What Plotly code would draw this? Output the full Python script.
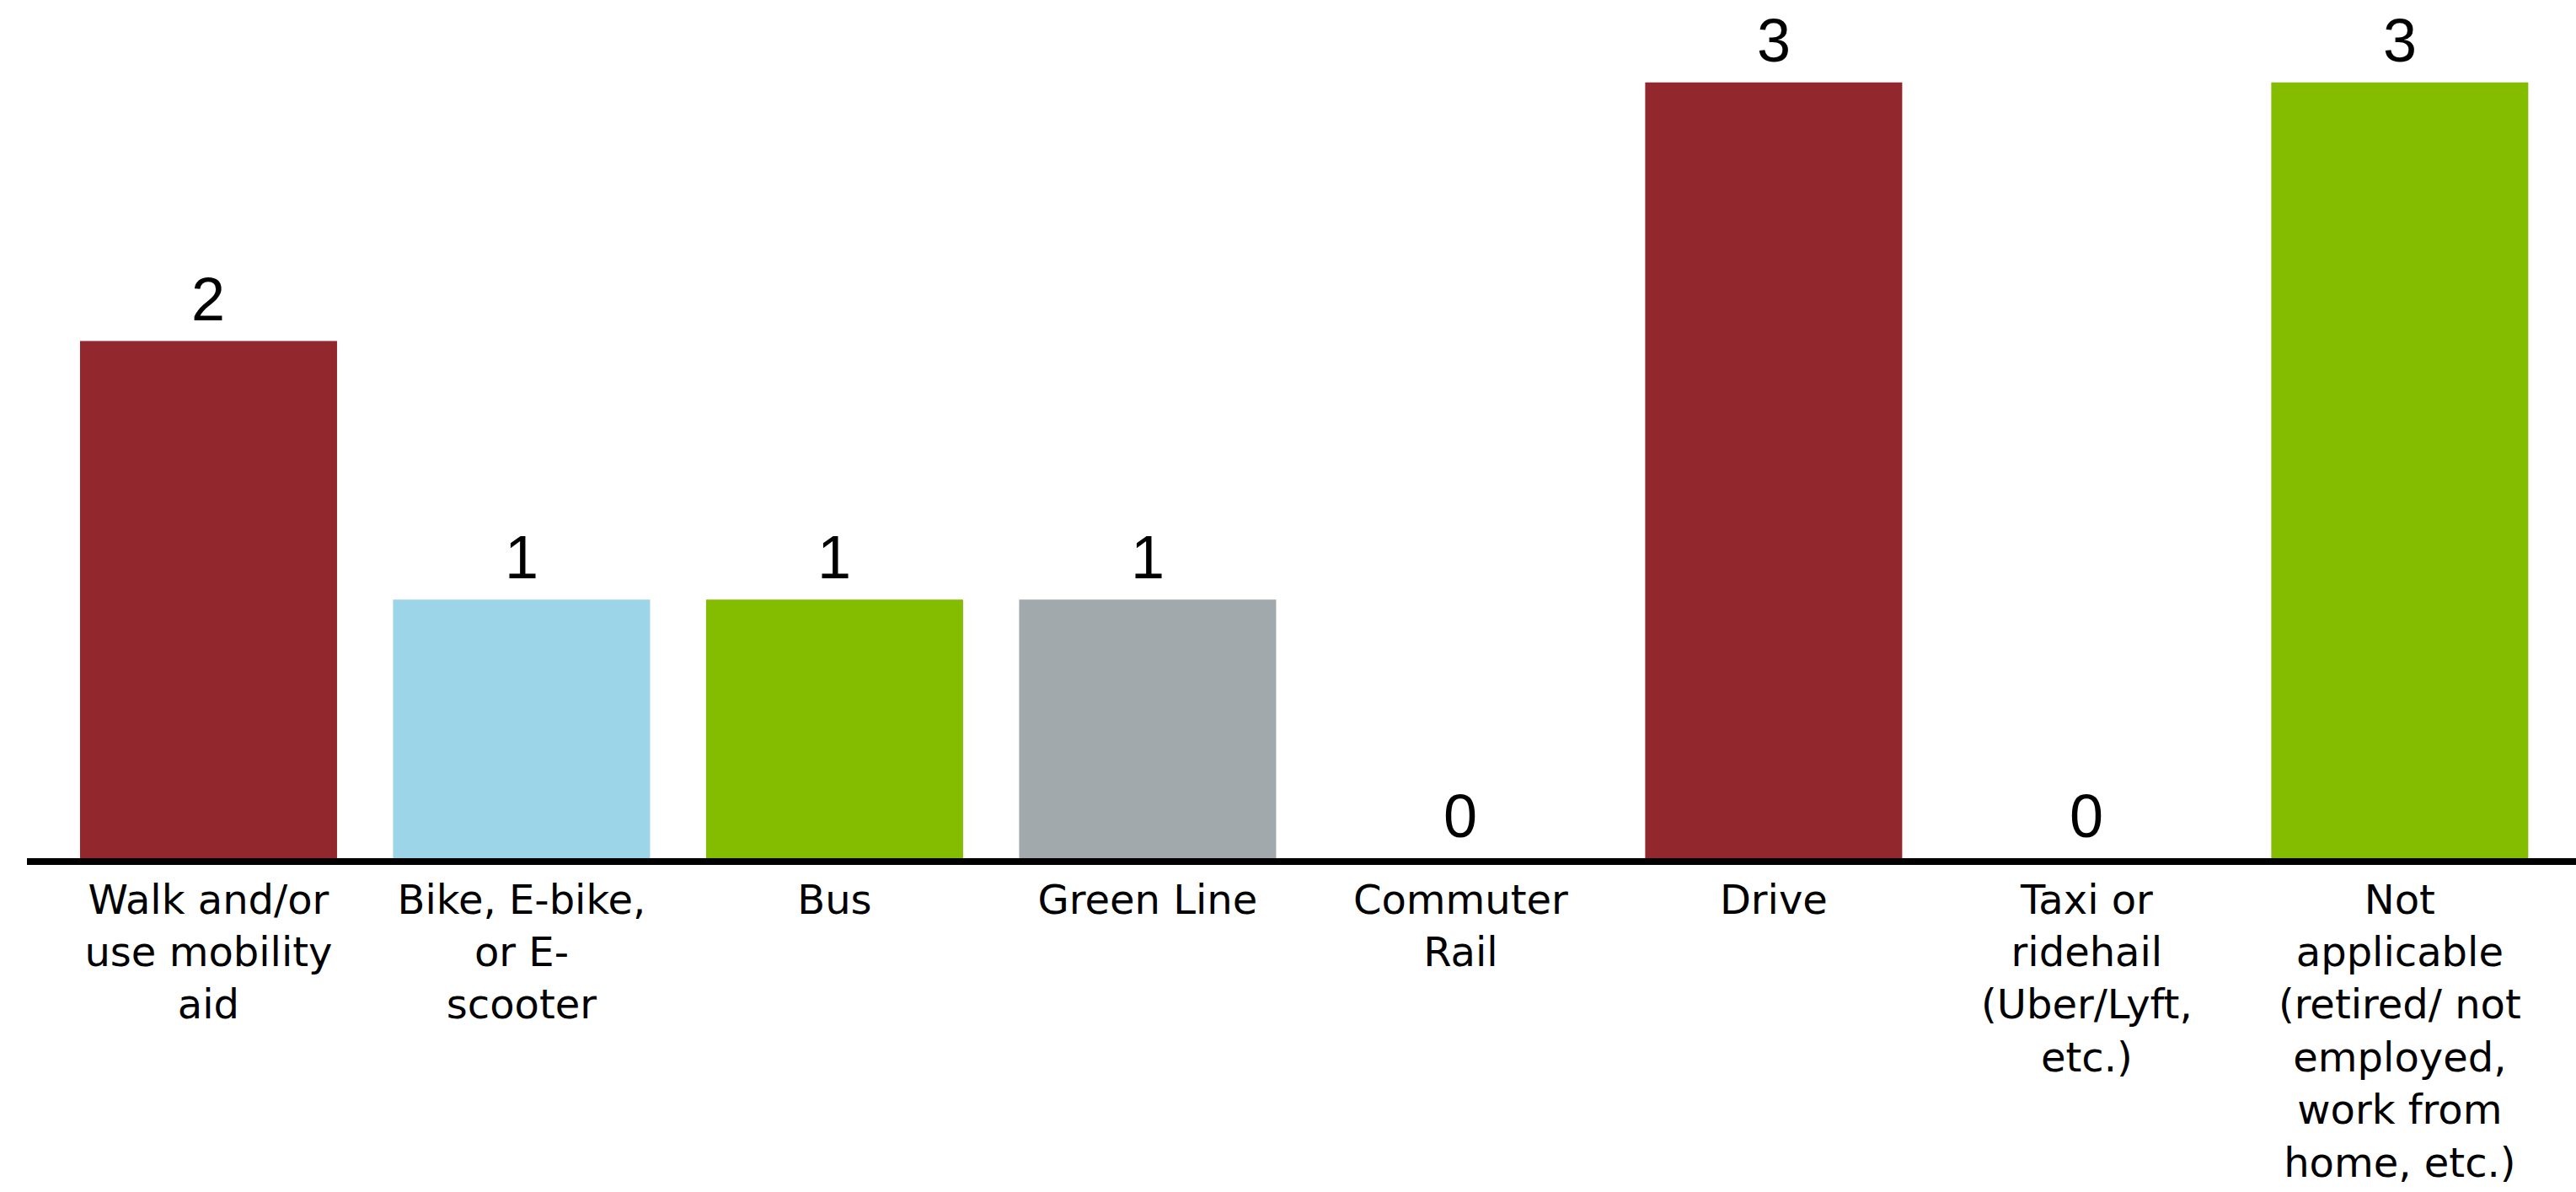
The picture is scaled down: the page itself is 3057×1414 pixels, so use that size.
import plotly.graph_objects as go

categories = [
    "Walk and/or<br>use mobility<br>aid",
    "Bike, E-bike,<br>or E-<br>scooter",
    "Bus",
    "Green Line",
    "Commuter<br>Rail",
    "Drive",
    "Taxi or<br>ridehail<br>(Uber/Lyft,<br>etc.)",
    "Not<br>applicable<br>(retired/ not<br>employed,<br>work from<br>home, etc.)",
]
values = [2, 1, 1, 1, 0, 3, 0, 3]
bar_colors = ["#92272D", "#9DD5E8", "#84BD00", "#A2A9AD",
              "#A2A9AD", "#92272D", "#9DD5E8", "#84BD00"]

xpos = list(range(len(categories)))

fig = go.Figure(
    go.Bar(
        x=xpos,
        y=values,
        marker=dict(color=bar_colors, line=dict(width=0)),
        width=0.821,
        hoverinfo="skip",
    )
)

for xi, v in zip(xpos, values):
    fig.add_annotation(
        x=xi, y=v, text=str(v), showarrow=False,
        xanchor="center", yanchor="bottom", yshift=8,
        font=dict(family="Liberation Sans, Arial, sans-serif", size=72, color="#000000"),
    )

fig.update_layout(
    width=3057,
    height=1414,
    margin=dict(l=32, r=0, t=0, b=396, pad=0),
    paper_bgcolor="white",
    plot_bgcolor="white",
    showlegend=False,
    xaxis=dict(
        range=[-0.58, 7.563],
        tickmode="array",
        tickvals=xpos,
        ticktext=categories,
        tickangle=0,
        showgrid=False,
        zeroline=False,
        showline=True,
        linecolor="#000000",
        linewidth=8,
        ticks="",
        tickfont=dict(family="DejaVu Sans, sans-serif", size=48, color="#000000"),
        fixedrange=True,
    ),
    yaxis=dict(
        range=[0, 3.319],
        showgrid=False,
        zeroline=False,
        showline=False,
        showticklabels=False,
        ticks="",
        fixedrange=True,
    ),
)

fig.write_html(
    "out.html",
    config={"displayModeBar": False, "staticPlot": True},
    post_script="document.body.style.margin='0';document.body.style.overflow='hidden';",
)
